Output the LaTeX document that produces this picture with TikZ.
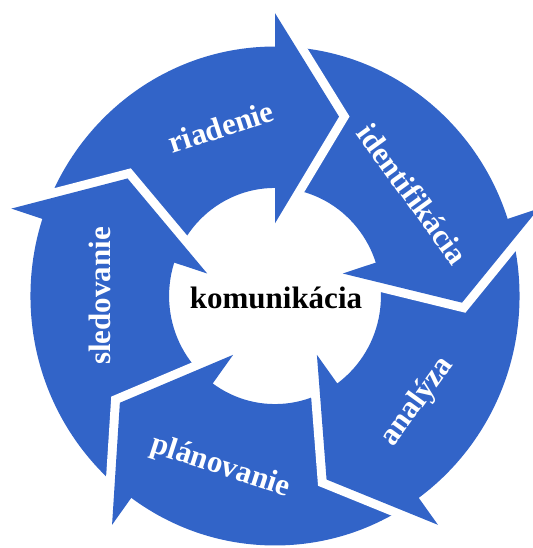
\documentclass[tikz,border=0pt]{standalone}
\usepackage{fontspec}
\setmainfont{Liberation Serif}
\definecolor{segblue}{RGB}{50,100,200}
\begin{document}
\begin{tikzpicture}[x=1pt,y=1pt,
  lbl/.style={text=white,font=\bfseries\fontsize{31}{31}\selectfont,inner sep=0pt},
  ctr/.style={text=black,font=\bfseries\fontsize{31}{31}\selectfont,inner sep=0pt},
  gapline/.style={draw=white,line width=18pt,line join=miter,miter limit=20},
  headfill/.style={fill=segblue}]
\useasboundingbox (-275,-252) rectangle (257,296);
\begin{scope}[xscale=0.99,yscale=1.01]
  \fill[segblue,even odd rule] (0,0) circle (247) (0,0) circle (107);
  \foreach \b/\n in {90/a,18/b,-54/c,-126/d,162/e}{
    \coordinate (po\n) at (\b:280);
    \coordinate (tp\n) at ({\b-20}:189);
    \coordinate (pi\n) at (\b:72);
    \draw[gapline] (po\n) -- (tp\n) -- (pi\n);
    \path[headfill] (po\n) -- (tp\n) -- (pi\n) -- cycle;
  }
  \node[lbl,rotate=18] (riadenie) at (108:176) {riadenie};
  \node[lbl,rotate=-54] (identifikacia) at (36:172) {identifikácia};
  \node[lbl,rotate=54] (analyza) at (-36:178) {analýza};
  \node[lbl,rotate=-18] (planovanie) at (-108:178) {plánovanie};
  \node[lbl,rotate=90] (sledovanie) at (180:177) {sledovanie};
  \node[ctr] (komunikacia) at (1,-2) {komunikácia};
\end{scope}
\end{tikzpicture}
\end{document}
